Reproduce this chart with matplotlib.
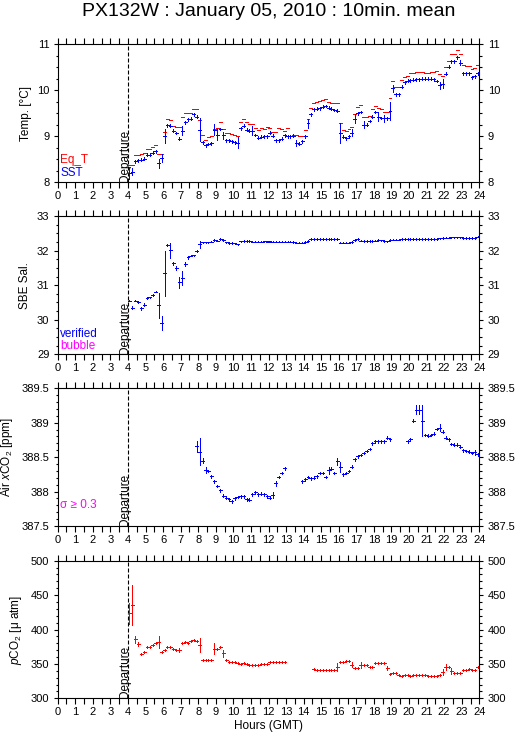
import numpy as np
import matplotlib
matplotlib.use("Agg")
import matplotlib.pyplot as plt
from matplotlib.ticker import MultipleLocator, FuncFormatter

plt.rcParams['font.family'] = ['Liberation Sans', 'DejaVu Sans']
plt.rcParams['mathtext.fontset'] = 'custom'
plt.rcParams['mathtext.rm'] = 'Liberation Sans'
plt.rcParams['mathtext.it'] = 'Liberation Sans:italic'

# 10 min means, first bin starts at departure (04:00 GMT)
start_hour = 4.0
bin_hours = 10 / 60.0
departure = 4.0
NA = None

eq_t = [8.38, 8.38, 8.59, 8.60, 8.62, 8.64,
        8.73, 8.73, 8.77, 8.80, 8.62, 8.62,
        9.09, 9.37, 9.35, 9.23, 9.21, 9.21,
        9.43, 9.50, 9.50, 9.50, 9.60, 9.59,
        9.35, 9.02, 8.93, 8.98, 9.00, 9.15,
        9.17, 9.30, 9.16, 9.07, 9.07, 9.05,
        9.03, 9.01, 9.30, 9.37, 9.30, 9.26,
        9.26, 9.19, 9.14, 9.17, 9.15, 9.20,
        9.18, 9.09, 9.09, 9.17, 9.15, 9.12,
        9.17, 9.01, 9.02, 9.02, 9.00, 9.01,
        9.13, 9.37, 9.61, 9.72, 9.74, 9.76,
        9.78, 9.80, 9.74, 9.73, 9.72, 9.72,
        9.28, 9.13, 9.11, 9.15, 9.20, 9.48,
        9.63, 9.67, 9.41, 9.41, 9.45, 9.59,
        9.66, 9.61, 9.59, 9.52, 9.52, 9.83,
        10.20, 10.07, 10.07, 10.22, 10.28, 10.32,
        10.37, 10.37, 10.39, 10.39, 10.39, 10.37,
        10.37, 10.39, 10.39, 10.42, 10.35, 10.31,
        10.50, 10.64, 10.78, 10.78, 10.87, 10.78,
        10.55, 10.53, 10.53, 10.46, 10.48, 10.54]

sst = [8.20, 8.23, 8.46, 8.48, 8.49, 8.51,
       8.60, 8.60, 8.64, 8.67, 8.41, 8.53,
       9.00, 9.24, 9.23, 9.12, 9.07, 8.95,
       9.12, 9.30, 9.37, 9.38, 9.48, 9.43,
       9.14, 8.87, 8.80, 8.83, 8.85, 9.14,
       9.03, 9.16, 9.02, 8.91, 8.91, 8.89,
       8.87, 8.86, 9.17, 9.23, 9.14, 9.12,
       9.12, 9.03, 8.97, 8.99, 9.00, 9.00,
       9.08, 9.01, 8.91, 8.91, 8.95, 9.02,
       9.00, 9.00, 9.01, 8.85, 8.84, 8.89,
       9.00, 9.28, 9.48, 9.59, 9.60, 9.61,
       9.64, 9.66, 9.62, 9.60, 9.57, 9.56,
       9.07, 8.99, 8.96, 9.00, 9.08, 9.38,
       9.50, 9.53, 9.25, 9.25, 9.33, 9.43,
       9.53, 9.43, 9.40, 9.39, 9.39, 9.55,
       10.04, 9.91, 9.91, 10.08, 10.17, 10.21,
       10.22, 10.23, 10.24, 10.24, 10.25, 10.25,
       10.25, 10.25, 10.24, 10.20, 10.11, 10.14,
       10.36, 10.51, 10.63, 10.63, 10.72, 10.60,
       10.37, 10.37, 10.37, 10.28, 10.30, 10.37]
sst_sd = {0: 0.12, 1: 0.08, 10: 0.1, 11: 0.08, 12: 0.15, 17: 0.04, 18: 0.1,
          24: 0.25, 29: 0.12, 30: 0.12, 32: 0.08, 37: 0.12, 42: 0.1, 57: 0.07,
          61: 0.1, 72: 0.22, 76: 0.07, 77: 0.1, 80: 0.08, 85: 0.1, 87: 0.07,
          89: 0.2, 90: 0.07, 106: 0.08, 107: 0.1, 113: 0.05}

salinity = [30.55, 30.35, 30.55, 30.51, 30.33, 30.44,
            30.63, 30.65, 30.72, 30.81, 30.42, 29.90,
            31.34, 32.16, 32.01, 31.63, 31.49, 31.08,
            31.20, 31.61, 31.80, 31.85, 31.86, 31.99,
            32.18, 32.24, 32.24, 32.24, 32.26, 32.31,
            32.29, 32.33, 32.31, 32.24, 32.22, 32.22,
            32.21, 32.18, 32.27, 32.28, 32.28, 32.28,
            32.26, 32.26, 32.26, 32.26, 32.27, 32.26,
            32.27, 32.26, 32.26, 32.26, 32.26, 32.26,
            32.26, 32.26, 32.25, 32.23, 32.23, 32.23,
            32.25, 32.28, 32.33, 32.34, 32.34, 32.34,
            32.34, 32.34, 32.34, 32.34, 32.33, 32.33,
            32.23, 32.23, 32.23, 32.23, 32.25, 32.31,
            32.33, 32.29, 32.28, 32.28, 32.28, 32.28,
            32.29, 32.31, 32.30, 32.28, 32.27, 32.31,
            32.32, 32.32, 32.32, 32.33, 32.33, 32.33,
            32.33, 32.33, 32.33, 32.33, 32.33, 32.33,
            32.33, 32.33, 32.33, 32.34, 32.35, 32.36,
            32.37, 32.37, 32.38, 32.38, 32.38, 32.38,
            32.36, 32.36, 32.36, 32.36, 32.36, 32.40]
sal_sd = {1: 0.05, 3: 0.04, 4: 0.04, 5: 0.05, 10: 0.36, 11: 0.2, 12: 0.65,
          13: 0.04, 14: 0.22, 15: 0.05, 16: 0.06, 17: 0.15, 18: 0.2, 19: 0.06,
          20: 0.05, 23: 0.04, 24: 0.1}

air_xco2 = [NA] * 23 + [
    388.66, 388.58, 388.45, 388.31, 388.30, 388.22, 388.15,
    388.08, 388.02, 387.94, 387.91, 387.89, 387.86,
    387.90, 387.92, 387.93, 387.93, 387.89, 387.88,
    387.96, 387.99, 387.96, 387.97, 387.96, 387.93,
    387.91, 387.95, 388.12, 388.21, 388.27, 388.34,
    NA, NA, NA, NA, NA, 388.15,
    388.18, 388.21, 388.19, 388.20, 388.22, 388.27,
    388.27, 388.21, 388.31, 388.33, 388.27, 388.44,
    388.36, 388.25, 388.27, 388.30, 388.36, 388.47,
    388.51, 388.53, 388.56, 388.59, 388.62, 388.70,
    388.73, 388.73, 388.73, 388.73, 388.78, 388.76,
    NA, NA, NA, NA, NA, 388.73,
    388.76, 389.03, 389.19, 389.19, 389.03, 388.82,
    388.81, 388.82, 388.84, 388.91, 388.93, 388.87,
    388.78, 388.76, 388.69, 388.68, 388.68, 388.65,
    388.60, 388.59, 388.58, 388.56, 388.57, 388.54]
air_sd = {23: 0.08, 24: 0.2, 25: 0.04, 26: 0.04, 49: 0.05, 50: 0.04,
          68: 0.05, 71: 0.05, 72: 0.07, 98: 0.07, 99: 0.07, 100: 0.23,
          106: 0.05, 118: 0.04}

pco2 = [423.5, 435.6, 385.7, 379.4, 364.0, 367.8,
        375.0, 375.0, 377.5, 380.0, 381.4, 366.8,
        369.7, 374.0, 374.0, 371.2, 370.2, 370.7,
        380.4, 381.4, 380.4, 383.3, 384.7, 383.3,
        377.5, 355.7, 355.7, 355.7, 355.7, 371.7,
        371.7, 374.1, 365.4, 355.7, 353.3, 353.3,
        353.3, 351.8, 349.4, 351.8, 349.9, 348.4,
        348.4, 348.4, 348.9, 349.4, 349.4, 349.4,
        352.3, 352.3, 352.3, 352.8, 352.8, 352.8,
        NA, NA, NA, NA, NA, NA,
        NA, NA, NA, 342.6, 341.6, 341.6,
        341.6, 341.6, 341.6, 341.6, 341.6, 346.0,
        352.8, 352.8, 353.7, 354.2, 348.9, 344.0,
        344.0, 348.4, 348.9, 348.4, 346.0, 346.0,
        351.3, 351.3, 351.3, 351.3, 343.6, 335.4,
        336.3, 336.3, 333.9, 332.9, 333.9, 333.9,
        332.9, 333.9, 333.9, 333.9, 333.9, 333.9,
        332.9, 332.9, 333.0, 333.0, 334.0, 338.0,
        345.5, 345.5, 340.0, 336.8, 336.8, 336.8,
        340.6, 340.6, 342.6, 340.6, 340.6, 345.0]
pco2_sd = {0: 15, 1: 29, 2: 5, 3: 3, 10: 9, 17: 3, 24: 10, 29: 8, 32: 5,
           71: 6, 76: 4, 79: 5, 88: 3, 107: 4, 108: 4, 110: 4}

hours = start_hour + bin_hours * (np.arange(len(eq_t)) + 0.5)


def as_arr(vals):
    return np.array([np.nan if v is None else v for v in vals], dtype=float)


def sd_arr(sd, default, n):
    out = np.full(n, default)
    for k, v in sd.items():
        out[k] = v
    return out


def crosses(ax, y, sd, color):
    eb = ax.errorbar(hours, as_arr(y), xerr=bin_hours / 2, yerr=sd,
                     fmt='none', ecolor=color, elinewidth=0.72, capsize=0)
    for coll in eb.lines[2]:
        coll.set_antialiased(False)


fig = plt.figure(figsize=(5.29, 7.39), dpi=100)
W, H = 529.0, 739.0
ax_left, ax_right = 57.7, 479.3
panels_px = [(44.3, 182.3), (216.0, 354.3), (388.3, 526.0), (560.7, 698.3)]
axes = []
for top, bot in panels_px:
    axes.append(fig.add_axes([ax_left / W, 1 - bot / H,
                              (ax_right - ax_left) / W, (bot - top) / H]))

n = len(eq_t)
ylims = [(8, 11), (29, 33), (387.5, 389.5), (300, 500)]
ymajor = [1, 1, 0.5, 50]
yminor = [0.25, 0.25, 0.1, 10]
ylabels = ['Temp. [°C]', 'SBE Sal.', 'Air $\\it{x}$CO$_2$ [ppm]',
           '$\\it{p}$CO$_2$ [μ atm]']
ylabel_x = [32, 31, 15, 24]

for i, ax in enumerate(axes):
    ax.set_xlim(0, 24)
    ax.set_ylim(*ylims[i])
    ax.xaxis.set_major_locator(MultipleLocator(1))
    ax.xaxis.set_minor_locator(MultipleLocator(0.5))
    ax.yaxis.set_major_locator(MultipleLocator(ymajor[i]))
    ax.yaxis.set_minor_locator(MultipleLocator(yminor[i]))
    ax.yaxis.set_major_formatter(FuncFormatter(lambda v, p: '%g' % v))
    ax.tick_params(axis='x', which='both', direction='out', top=True,
                   bottom=True, length=4, width=0.8, labelsize=8, pad=2.5)
    ax.tick_params(axis='y', which='major', direction='out', left=True,
                   right=True, labelleft=True, labelright=True, length=3,
                   width=0.8, labelsize=8, pad=3)
    ax.tick_params(axis='y', which='minor', direction='out', left=True,
                   right=True, length=1.8, width=0.8)
    for sp in ax.spines.values():
        sp.set_linewidth(0.8)
    ax.set_ylabel(ylabels[i], fontsize=8.5)
    ax.yaxis.set_label_coords((ylabel_x[i] - ax_left) / (ax_right - ax_left), 0.5)
    ax.axvline(departure, color='k', lw=0.8, ls=(0, (3.6, 1.8)))
    ax.text(departure, ylims[i][0], 'Departure', rotation=90,
            rotation_mode='anchor', ha='left', va='baseline', fontsize=8.5)

crosses(axes[0], eq_t, 0.0, 'red')
crosses(axes[0], sst, sd_arr(sst_sd, 0.03, n), 'blue')
crosses(axes[1], salinity, sd_arr(sal_sd, 0.02, n), 'blue')
crosses(axes[2], air_xco2, sd_arr(air_sd, 0.02, n), 'blue')
crosses(axes[3], pco2, sd_arr(pco2_sd, 1.5, n), 'red')

axes[0].text(0.006, 0.14, 'Eq_T', color='red', fontsize=8.5, transform=axes[0].transAxes)
axes[0].text(0.006, 0.045, 'SST', color='blue', fontsize=8.5, transform=axes[0].transAxes)
axes[1].text(0.006, 0.125, 'verified', color='blue', fontsize=8.5, transform=axes[1].transAxes)
axes[1].text(0.006, 0.04, 'bubble', color='magenta', fontsize=8.5, transform=axes[1].transAxes)
axes[2].text(0.006, 0.13, 'σ ≥ 0.3', color='magenta', fontsize=8.5, transform=axes[2].transAxes)

axes[3].set_xlabel('Hours (GMT)', fontsize=8.5, labelpad=2)

fig.text((ax_left + ax_right) / 2 / W, 1 - 16.5 / H,
         'PX132W : January 05, 2010 : 10min. mean',
         ha='center', va='baseline', fontsize=14)

fig.savefig('out.png', dpi=100)
